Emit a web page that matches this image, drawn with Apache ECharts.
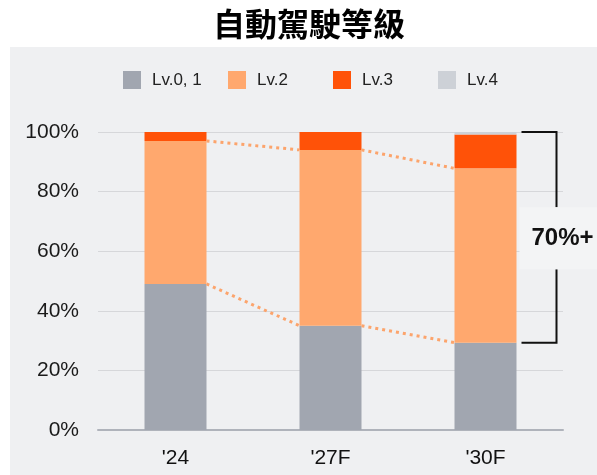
<!DOCTYPE html>
<html>
<head>
<meta charset="utf-8">
<script src="https://cdn.jsdelivr.net/npm/echarts@6/dist/echarts.min.js"></script>
<style>
  html, body { margin: 0; padding: 0; background: #fff; }
  #chart { width: 597px; height: 475px; }
</style>
</head>
<body>
<div id="chart"></div>
<script>
// 自動駕駛等級 share by year (%)
var years = ["'24", "'27F", "'30F"];
var lv01 = [49, 35, 29.3];
var lv2 = [48, 59, 58.5];
var lv3 = [3, 6, 11.4];
var lv4 = [0, 0, 0.8];
var seriesNames = ['Lv.0, 1', 'Lv.2', 'Lv.3', 'Lv.4'];
var yTicks = [0, 20, 40, 60, 80, 100];
var bracketText = '70%+';

var colors = ['#a1a6b0', '#ffa86e', '#ff5208', '#cdd1d7'];
var BAR_RATIO = 0.4;
var FONT = '"Liberation Sans", Arial, sans-serif';

var chart = echarts.init(document.getElementById('chart'));

// dotted connectors between bar tops
var lowTop = lv01.slice();
var midTop = lv01.map(function (v, i) { return v + lv2[i]; });
var links = [];
for (var i = 0; i < years.length - 1; i++) {
  links.push([i, lowTop[i], lowTop[i + 1]]);
  links.push([i, midTop[i], midTop[i + 1]]);
}
var last = years.length - 1;
var bracketData = [[last, lowTop[last], yTicks[yTicks.length - 1]]];

function renderLink(params, api) {
  var idx = api.value(0);
  var half = api.size([1, 0])[0] * BAR_RATIO / 2;
  var a = api.coord([idx, api.value(1)]);
  var b = api.coord([idx + 1, api.value(2)]);
  return {
    type: 'line',
    shape: { x1: a[0] + half, y1: a[1], x2: b[0] - half, y2: b[1] },
    style: { stroke: '#fca46c', lineWidth: 3, lineDash: [3, 4] }
  };
}

function renderBracket(params, api) {
  var idx = api.value(0);
  var half = api.size([1, 0])[0] * BAR_RATIO / 2;
  var top = api.coord([idx, api.value(2)]);
  var bot = api.coord([idx, api.value(1)]);
  var x0 = top[0] + half + 5;
  var x1 = x0 + 35;
  var mid = (top[1] + bot[1]) / 2;
  return {
    type: 'group',
    children: [
      {
        type: 'polyline',
        shape: { points: [[x0, top[1]], [x1, top[1]], [x1, mid - 30]] },
        style: { stroke: '#111', lineWidth: 2, fill: 'none' }
      },
      {
        type: 'polyline',
        shape: { points: [[x0, bot[1]], [x1, bot[1]], [x1, mid + 32]] },
        style: { stroke: '#111', lineWidth: 2, fill: 'none' }
      },
      {
        type: 'text',
        x: x1 - 37,
        y: mid - 30,
        style: {
          text: bracketText,
          fill: '#111',
          font: 'bold 24px ' + FONT,
          backgroundColor: '#f3f4f5',
          padding: [19, 10, 19, 12],
          verticalAlign: 'top'
        }
      }
    ]
  };
}

var legendLeft = [123, 228, 333, 438];
var legends = seriesNames.map(function (name, k) {
  return {
    data: [name],
    left: legendLeft[k],
    top: 71,
    padding: 0,
    itemWidth: 18,
    itemHeight: 18,
    icon: 'rect',
    textStyle: { fontSize: 17, color: '#222', fontFamily: FONT, padding: [0, 0, 0, 6] }
  };
});

var valueSets = [lv01, lv2, lv3, lv4];
var barSeries = seriesNames.map(function (name, k) {
  return {
    name: name,
    type: 'bar',
    stack: 'total',
    barWidth: (BAR_RATIO * 100) + '%',
    data: valueSets[k],
    itemStyle: { color: colors[k] }
  };
});

var option = {
  animation: false,
  backgroundColor: '#fff',
  graphic: [{
    type: 'rect',
    z: -10,
    silent: true,
    shape: { x: 10, y: 47, width: 587, height: 428 },
    style: { fill: '#eff0f2' }
  }],
  title: {
    text: '自動駕駛等級',
    left: 213,
    top: 8,
    padding: 0,
    textStyle: {
      fontFamily: '"Noto Sans CJK TC"',
      fontSize: 32,
      fontWeight: 'bold',
      color: '#000'
    }
  },
  legend: legends,
  grid: { left: 98, right: 34, top: 132, bottom: 45, outerBoundsMode: 'none' },
  xAxis: {
    type: 'category',
    data: years,
    axisTick: { show: false },
    axisLine: { lineStyle: { color: '#afb3bb', width: 2 } },
    axisLabel: { fontSize: 21, color: '#111', fontFamily: FONT, margin: 18 }
  },
  yAxis: {
    type: 'value',
    min: yTicks[0],
    max: yTicks[yTicks.length - 1],
    interval: yTicks[1] - yTicks[0],
    axisLine: { show: false },
    axisTick: { show: false },
    splitLine: { lineStyle: { color: '#d6d7da', width: 1 } },
    axisLabel: { formatter: '{value}%', fontSize: 21, color: '#1a1a1a', fontFamily: FONT, margin: 19 }
  },
  series: barSeries.concat([
    {
      type: 'custom',
      name: 'links',
      renderItem: renderLink,
      data: links,
      encode: { x: 0, y: [1, 2] },
      z: 5,
      silent: true
    },
    {
      type: 'custom',
      name: 'bracket',
      renderItem: renderBracket,
      data: bracketData,
      encode: { x: 0, y: [1, 2] },
      z: 5,
      silent: true
    }
  ])
};

chart.setOption(option);
</script>
</body>
</html>
